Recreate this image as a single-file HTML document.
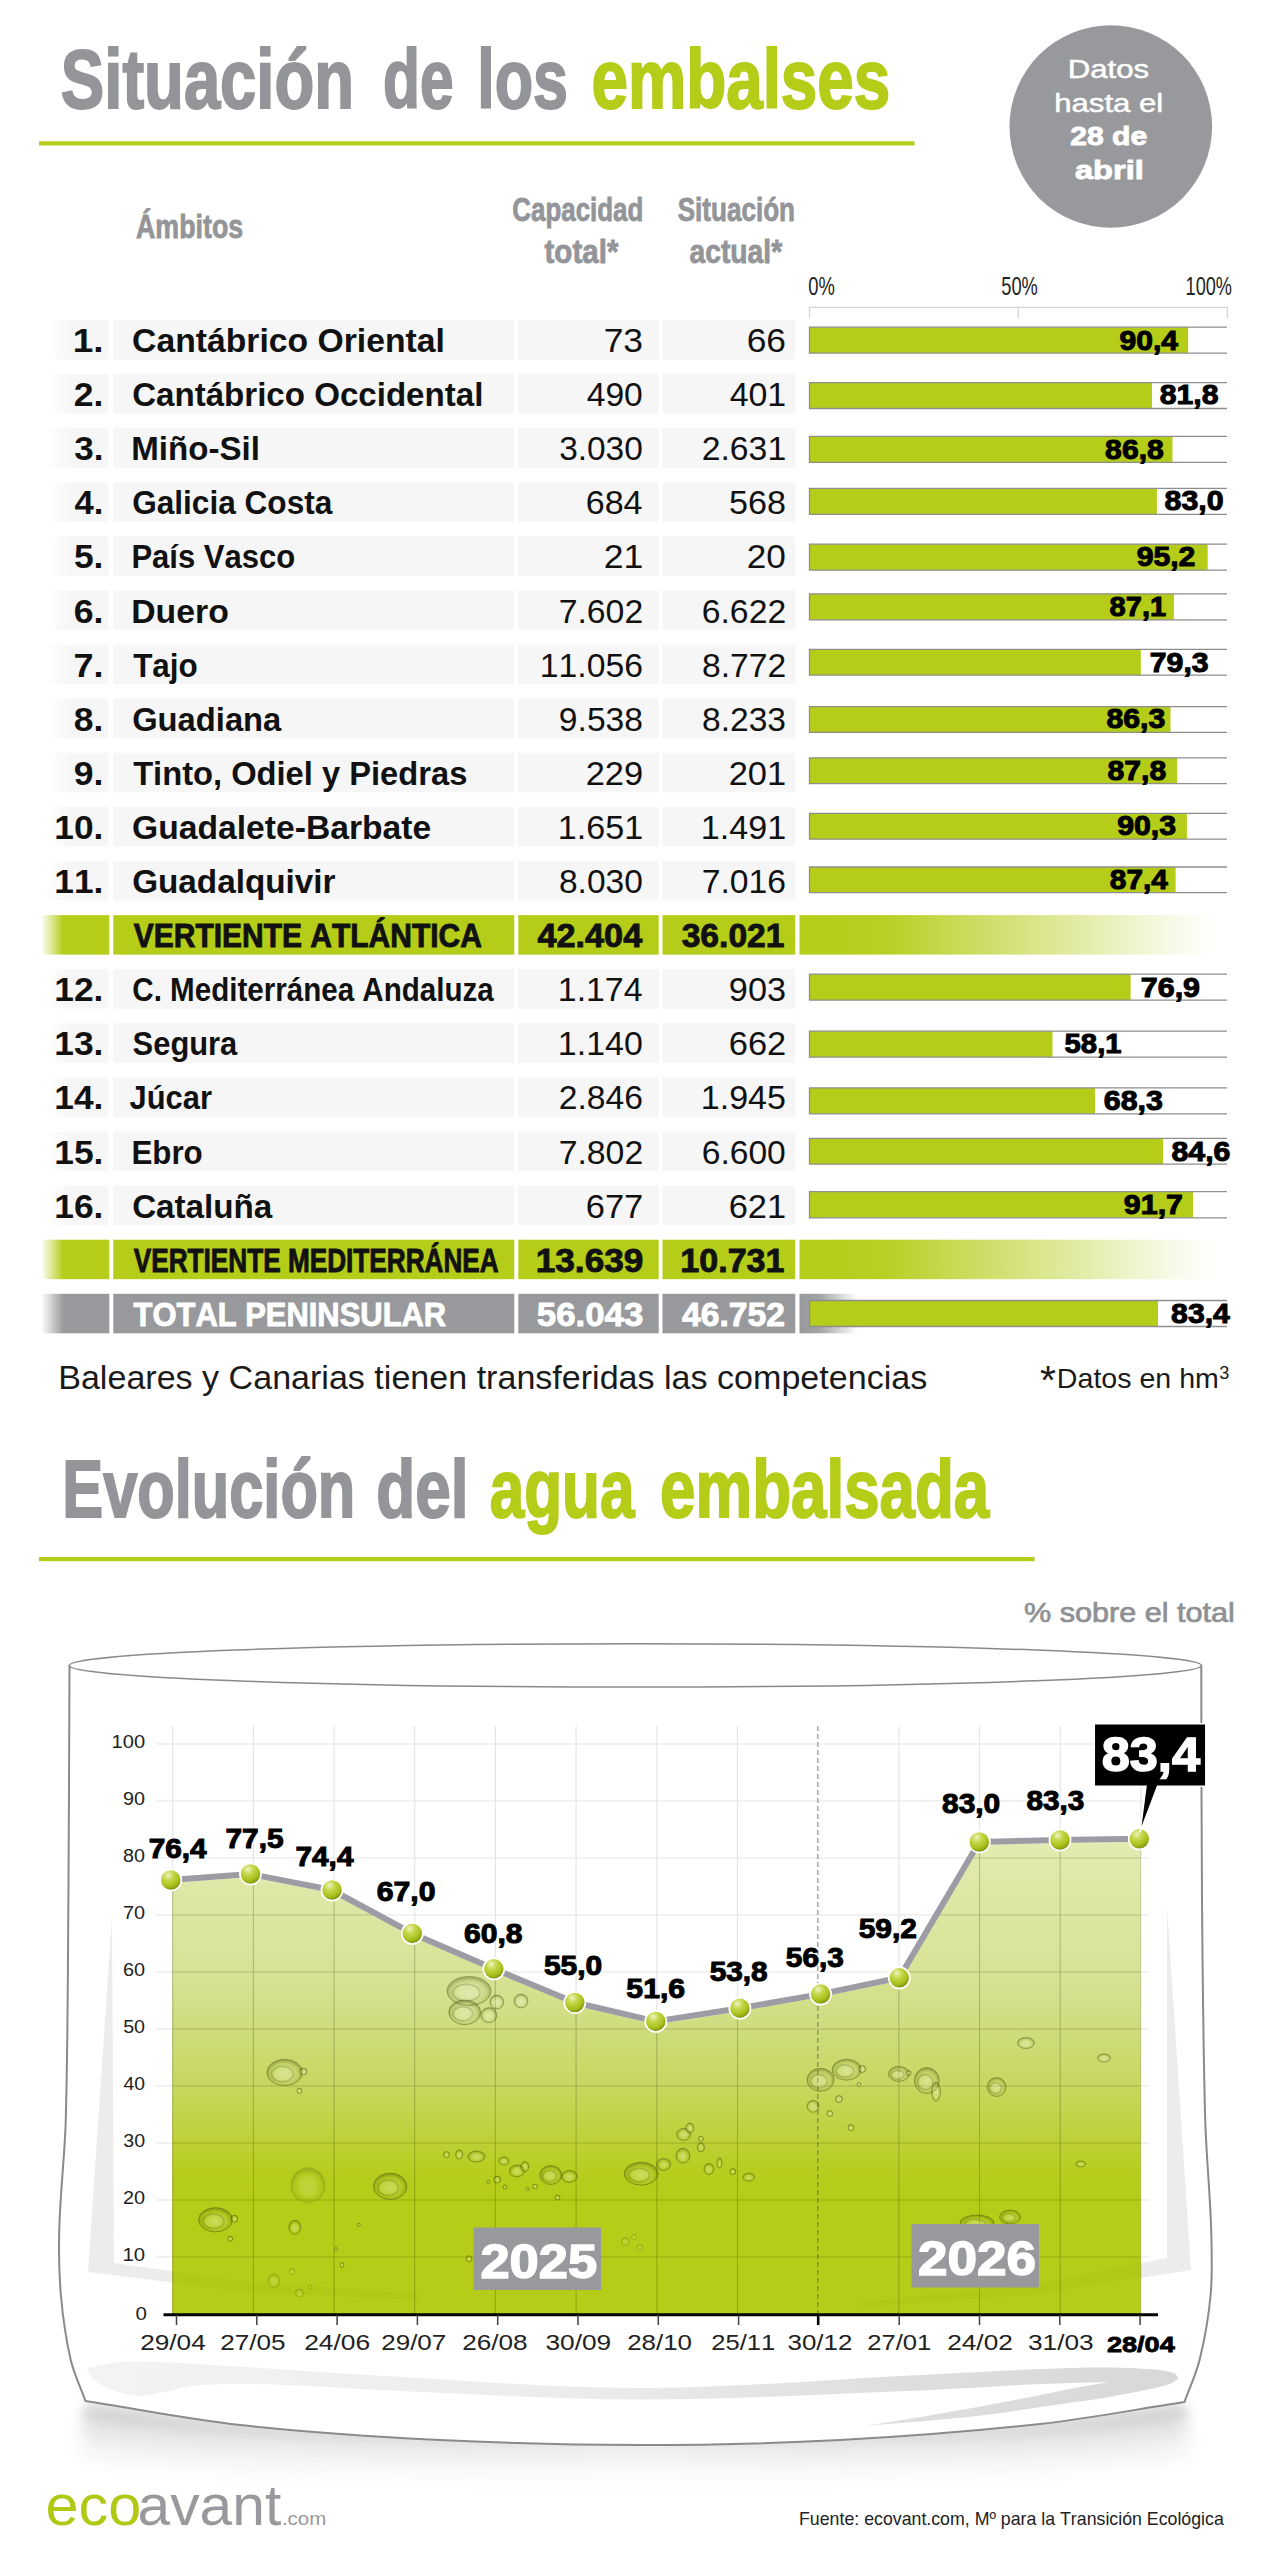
<!DOCTYPE html>
<html lang="es">
<head>
<meta charset="utf-8">
<title>Situación de los embalses</title>
<style>
html,body{margin:0;padding:0;background:#fff}
body{width:1280px;height:2560px;overflow:hidden;font-family:'Liberation Sans', sans-serif}
svg{display:block}
text{white-space:pre;font-kerning:none}
</style>
</head>
<body>
<svg width="1280" height="2560" viewBox="0 0 1280 2560">
<defs>
<linearGradient id="gl" x1="0" x2="1" y1="0" y2="0"><stop offset="0" stop-color="#b5cc18" stop-opacity="0"/><stop offset="0.33" stop-color="#b5cc18" stop-opacity="1"/><stop offset="1" stop-color="#b5cc18"/></linearGradient>
<linearGradient id="grl" x1="0" x2="1" y1="0" y2="0"><stop offset="0" stop-color="#97999c" stop-opacity="0"/><stop offset="0.33" stop-color="#97999c" stop-opacity="1"/><stop offset="1" stop-color="#97999c"/></linearGradient>
<linearGradient id="lgl" x1="0" x2="1" y1="0" y2="0"><stop offset="0" stop-color="#f6f6f6" stop-opacity="0"/><stop offset="0.4" stop-color="#f6f6f6" stop-opacity="1"/><stop offset="1" stop-color="#f6f6f6"/></linearGradient>
<linearGradient id="gfade" x1="0" x2="1" y1="0" y2="0"><stop offset="0" stop-color="#b5cc18" stop-opacity="1"/><stop offset="0.2" stop-color="#b5cc18" stop-opacity="0.95"/><stop offset="0.45" stop-color="#b5cc18" stop-opacity="0.65"/><stop offset="0.7" stop-color="#b5cc18" stop-opacity="0.35"/><stop offset="0.88" stop-color="#b5cc18" stop-opacity="0.12"/><stop offset="1" stop-color="#b5cc18" stop-opacity="0"/></linearGradient>
<linearGradient id="grfade" x1="0" x2="1" y1="0" y2="0"><stop offset="0" stop-color="#97999c" stop-opacity="1"/><stop offset="0.35" stop-color="#97999c" stop-opacity="0.9"/><stop offset="1" stop-color="#97999c" stop-opacity="0"/></linearGradient>
<linearGradient id="area" x1="0" x2="0" y1="1840" y2="2314" gradientUnits="userSpaceOnUse"><stop offset="0" stop-color="#e3ebb2"/><stop offset="0.084" stop-color="#dfe8a8"/><stop offset="0.28" stop-color="#d8e296"/><stop offset="0.40" stop-color="#cfdc7c"/><stop offset="0.52" stop-color="#c7d75e"/><stop offset="0.643" stop-color="#bdd034"/><stop offset="0.70" stop-color="#b7cd1e"/><stop offset="0.75" stop-color="#b5cc18"/><stop offset="1" stop-color="#b5cc18"/></linearGradient>
<radialGradient id="bub" cx="0.5" cy="0.55" r="0.5"><stop offset="0" stop-color="#fff" stop-opacity="0.30"/><stop offset="0.55" stop-color="#fff" stop-opacity="0.14"/><stop offset="0.8" stop-color="#46500f" stop-opacity="0.08"/><stop offset="1" stop-color="#46500f" stop-opacity="0.34"/></radialGradient>
<radialGradient id="ball" cx="0.38" cy="0.28" r="0.8"><stop offset="0" stop-color="#eef3c0"/><stop offset="0.3" stop-color="#c6d84c"/><stop offset="0.65" stop-color="#a9c01c"/><stop offset="1" stop-color="#6a7c08"/></radialGradient>
<linearGradient id="ring" x1="87" x2="1180" y1="0" y2="0" gradientUnits="userSpaceOnUse"><stop offset="0" stop-color="#f3f3f3"/><stop offset="0.45" stop-color="#ececec"/><stop offset="0.75" stop-color="#dedede"/><stop offset="1" stop-color="#d8d8d8"/></linearGradient>
<filter id="blur12" x="-10%" y="-100%" width="120%" height="300%"><feGaussianBlur stdDeviation="10"/></filter>
<filter id="blur6" x="-10%" y="-100%" width="120%" height="300%"><feGaussianBlur stdDeviation="5"/></filter>
<filter id="blur9" x="-10%" y="-100%" width="120%" height="300%"><feGaussianBlur stdDeviation="8"/></filter>
<linearGradient id="shg" x1="70" x2="1200" y1="0" y2="0" gradientUnits="userSpaceOnUse"><stop offset="0" stop-color="#000"/><stop offset="0.22" stop-color="#000" stop-opacity="0.75"/><stop offset="0.5" stop-color="#000" stop-opacity="0.55"/><stop offset="0.78" stop-color="#000" stop-opacity="0.75"/><stop offset="1" stop-color="#000"/></linearGradient>
<filter id="blur1" x="-5%" y="-5%" width="110%" height="110%"><feGaussianBlur stdDeviation="0.7"/></filter>
</defs>
<g font-family="'Liberation Sans', sans-serif">
<text x="60.87" y="107.60" font-size="84" font-weight="bold" fill="#939598" textLength="293.17" lengthAdjust="spacingAndGlyphs" stroke="#939598" stroke-width="2">Situación</text>
<text x="383.02" y="107.60" font-size="84" font-weight="bold" fill="#939598" textLength="70.55" lengthAdjust="spacingAndGlyphs" stroke="#939598" stroke-width="2">de</text>
<text x="477.21" y="107.60" font-size="84" font-weight="bold" fill="#939598" textLength="90.76" lengthAdjust="spacingAndGlyphs" stroke="#939598" stroke-width="2">los</text>
<text x="591.44" y="107.60" font-size="84" font-weight="bold" fill="#b5cc18" textLength="298.75" lengthAdjust="spacingAndGlyphs" stroke="#b5cc18" stroke-width="2">embalses</text>
<rect x="39" y="141.3" width="875.5" height="4.2" fill="#b5cc18"/>
<circle cx="1110.8" cy="126.5" r="101.3" fill="#97999c"/>
<text x="1067.69" y="78.00" font-size="26.5" fill="#fff" textLength="81.38" lengthAdjust="spacingAndGlyphs" stroke="#fff" stroke-width="0.5">Datos</text>
<text x="1054.29" y="111.60" font-size="26.5" fill="#fff" textLength="108.94" lengthAdjust="spacingAndGlyphs" stroke="#fff" stroke-width="0.5">hasta el</text>
<text x="1070.21" y="145.00" font-size="26.5" font-weight="bold" fill="#fff" textLength="76.97" lengthAdjust="spacingAndGlyphs" stroke="#fff" stroke-width="0.9">28 de</text>
<text x="1075.00" y="178.60" font-size="26.5" font-weight="bold" fill="#fff" textLength="68.76" lengthAdjust="spacingAndGlyphs" stroke="#fff" stroke-width="0.9">abril</text>
<text x="136.03" y="238.00" font-size="33" font-weight="bold" fill="#939598" textLength="107.17" lengthAdjust="spacingAndGlyphs" stroke="#939598" stroke-width="0.8">Ámbitos</text>
<text x="512.34" y="220.80" font-size="33" font-weight="bold" fill="#939598" textLength="130.97" lengthAdjust="spacingAndGlyphs" stroke="#939598" stroke-width="0.8">Capacidad</text>
<text x="544.54" y="262.50" font-size="33" font-weight="bold" fill="#939598" textLength="73.89" lengthAdjust="spacingAndGlyphs" stroke="#939598" stroke-width="0.8">total*</text>
<text x="677.65" y="221.00" font-size="33" font-weight="bold" fill="#939598" textLength="117.37" lengthAdjust="spacingAndGlyphs" stroke="#939598" stroke-width="0.8">Situación</text>
<text x="689.57" y="262.50" font-size="33" font-weight="bold" fill="#939598" textLength="92.55" lengthAdjust="spacingAndGlyphs" stroke="#939598" stroke-width="0.8">actual*</text>
<text x="808.28" y="294.80" font-size="25" fill="#222" textLength="26.57" lengthAdjust="spacingAndGlyphs">0%</text>
<text x="1001.27" y="294.80" font-size="25" fill="#222" textLength="36.58" lengthAdjust="spacingAndGlyphs">50%</text>
<text x="1185.62" y="294.80" font-size="25" fill="#222" textLength="46.33" lengthAdjust="spacingAndGlyphs">100%</text>
<path d="M809.5 318V307.4H1227.3V318M1018.2 307.4V318" fill="none" stroke="#d4d4d4" stroke-width="1.3"/>
<rect x="46" y="320.0" width="62.5" height="39.5" fill="url(#lgl)"/>
<rect x="113.3" y="320.0" width="401.0" height="39.5" fill="#f6f6f6"/>
<rect x="518.3" y="320.0" width="140.4" height="39.5" fill="#f6f6f6"/>
<rect x="662.5" y="320.0" width="132.8" height="39.5" fill="#f6f6f6"/>
<text x="72.67" y="352.00" font-size="33.3" font-weight="bold" fill="#111" textLength="30.88" lengthAdjust="spacingAndGlyphs">1.</text>
<text x="132.12" y="352.00" font-size="33.3" font-weight="bold" fill="#111" textLength="312.77" lengthAdjust="spacingAndGlyphs">Cantábrico Oriental</text>
<text x="603.66" y="352.00" font-size="32.4" fill="#111" textLength="39.40" lengthAdjust="spacingAndGlyphs">73</text>
<text x="746.67" y="352.00" font-size="32.4" fill="#111" textLength="39.38" lengthAdjust="spacingAndGlyphs">66</text>
<rect x="809.5" y="327.2" width="378.6" height="25.9" fill="#b5cc18"/>
<path d="M1227 327.2H809.5V353.2H1227" fill="none" stroke="#8e8e8e" stroke-width="1.3"/>
<text x="1119.46" y="349.60" font-size="27.5" font-weight="bold" fill="#000" textLength="58.50" lengthAdjust="spacingAndGlyphs" stroke="#000" stroke-width="1">90,4</text>
<rect x="46" y="374.1" width="62.5" height="39.5" fill="url(#lgl)"/>
<rect x="113.3" y="374.1" width="401.0" height="39.5" fill="#f6f6f6"/>
<rect x="518.3" y="374.1" width="140.4" height="39.5" fill="#f6f6f6"/>
<rect x="662.5" y="374.1" width="132.8" height="39.5" fill="#f6f6f6"/>
<text x="73.77" y="406.10" font-size="33.3" font-weight="bold" fill="#111" textLength="29.68" lengthAdjust="spacingAndGlyphs">2.</text>
<text x="132.14" y="406.10" font-size="33.3" font-weight="bold" fill="#111" textLength="351.20" lengthAdjust="spacingAndGlyphs">Cantábrico Occidental</text>
<text x="586.68" y="406.10" font-size="32.4" fill="#111" textLength="56.13" lengthAdjust="spacingAndGlyphs">490</text>
<text x="729.68" y="406.10" font-size="32.4" fill="#111" textLength="56.47" lengthAdjust="spacingAndGlyphs">401</text>
<rect x="809.5" y="382.7" width="342.5" height="25.8" fill="#b5cc18"/>
<path d="M1227 382.7H809.5V408.5H1227" fill="none" stroke="#8e8e8e" stroke-width="1.3"/>
<text x="1159.84" y="403.80" font-size="27.5" font-weight="bold" fill="#000" textLength="58.68" lengthAdjust="spacingAndGlyphs" stroke="#000" stroke-width="1">81,8</text>
<rect x="46" y="428.2" width="62.5" height="39.5" fill="url(#lgl)"/>
<rect x="113.3" y="428.2" width="401.0" height="39.5" fill="#f6f6f6"/>
<rect x="518.3" y="428.2" width="140.4" height="39.5" fill="#f6f6f6"/>
<rect x="662.5" y="428.2" width="132.8" height="39.5" fill="#f6f6f6"/>
<text x="74.20" y="460.20" font-size="33.3" font-weight="bold" fill="#111" textLength="29.22" lengthAdjust="spacingAndGlyphs">3.</text>
<text x="131.29" y="460.20" font-size="33.3" font-weight="bold" fill="#111" textLength="128.55" lengthAdjust="spacingAndGlyphs">Miño-Sil</text>
<text x="559.16" y="460.20" font-size="32.4" fill="#111" textLength="83.64" lengthAdjust="spacingAndGlyphs">3.030</text>
<text x="701.74" y="460.20" font-size="32.4" fill="#111" textLength="84.41" lengthAdjust="spacingAndGlyphs">2.631</text>
<rect x="809.5" y="436.3" width="363.0" height="26.1" fill="#b5cc18"/>
<path d="M1227 436.3H809.5V462.4H1227" fill="none" stroke="#8e8e8e" stroke-width="1.3"/>
<text x="1105.14" y="458.50" font-size="27.5" font-weight="bold" fill="#000" textLength="58.68" lengthAdjust="spacingAndGlyphs" stroke="#000" stroke-width="1">86,8</text>
<rect x="46" y="482.3" width="62.5" height="39.5" fill="url(#lgl)"/>
<rect x="113.3" y="482.3" width="401.0" height="39.5" fill="#f6f6f6"/>
<rect x="518.3" y="482.3" width="140.4" height="39.5" fill="#f6f6f6"/>
<rect x="662.5" y="482.3" width="132.8" height="39.5" fill="#f6f6f6"/>
<text x="74.48" y="514.30" font-size="33.3" font-weight="bold" fill="#111" textLength="28.91" lengthAdjust="spacingAndGlyphs">4.</text>
<text x="132.20" y="514.30" font-size="33.3" font-weight="bold" fill="#111" textLength="200.09" lengthAdjust="spacingAndGlyphs">Galicia Costa</text>
<text x="585.73" y="514.30" font-size="32.4" fill="#111" textLength="56.77" lengthAdjust="spacingAndGlyphs">684</text>
<text x="729.09" y="514.30" font-size="32.4" fill="#111" textLength="56.89" lengthAdjust="spacingAndGlyphs">568</text>
<rect x="809.5" y="488.3" width="347.4" height="26.1" fill="#b5cc18"/>
<path d="M1227 488.3H809.5V514.4H1227" fill="none" stroke="#8e8e8e" stroke-width="1.3"/>
<text x="1164.54" y="509.75" font-size="27.5" font-weight="bold" fill="#000" textLength="59.01" lengthAdjust="spacingAndGlyphs" stroke="#000" stroke-width="1">83,0</text>
<rect x="46" y="536.4" width="62.5" height="39.5" fill="url(#lgl)"/>
<rect x="113.3" y="536.4" width="401.0" height="39.5" fill="#f6f6f6"/>
<rect x="518.3" y="536.4" width="140.4" height="39.5" fill="#f6f6f6"/>
<rect x="662.5" y="536.4" width="132.8" height="39.5" fill="#f6f6f6"/>
<text x="73.91" y="568.40" font-size="33.3" font-weight="bold" fill="#111" textLength="29.53" lengthAdjust="spacingAndGlyphs">5.</text>
<text x="131.43" y="568.40" font-size="33.3" font-weight="bold" fill="#111" textLength="163.79" lengthAdjust="spacingAndGlyphs">País Vasco</text>
<text x="603.68" y="568.40" font-size="32.4" fill="#111" textLength="39.55" lengthAdjust="spacingAndGlyphs">21</text>
<text x="746.70" y="568.40" font-size="32.4" fill="#111" textLength="39.18" lengthAdjust="spacingAndGlyphs">20</text>
<rect x="809.5" y="544.1" width="398.2" height="26.1" fill="#b5cc18"/>
<path d="M1227 544.1H809.5V570.2H1227" fill="none" stroke="#8e8e8e" stroke-width="1.3"/>
<text x="1136.65" y="566.00" font-size="27.5" font-weight="bold" fill="#000" textLength="58.76" lengthAdjust="spacingAndGlyphs" stroke="#000" stroke-width="1">95,2</text>
<rect x="46" y="590.5" width="62.5" height="39.5" fill="url(#lgl)"/>
<rect x="113.3" y="590.5" width="401.0" height="39.5" fill="#f6f6f6"/>
<rect x="518.3" y="590.5" width="140.4" height="39.5" fill="#f6f6f6"/>
<rect x="662.5" y="590.5" width="132.8" height="39.5" fill="#f6f6f6"/>
<text x="73.69" y="622.50" font-size="33.3" font-weight="bold" fill="#111" textLength="29.76" lengthAdjust="spacingAndGlyphs">6.</text>
<text x="131.24" y="622.50" font-size="33.3" font-weight="bold" fill="#111" textLength="97.58" lengthAdjust="spacingAndGlyphs">Duero</text>
<text x="558.70" y="622.50" font-size="32.4" fill="#111" textLength="84.49" lengthAdjust="spacingAndGlyphs">7.602</text>
<text x="701.72" y="622.50" font-size="32.4" fill="#111" textLength="84.48" lengthAdjust="spacingAndGlyphs">6.622</text>
<rect x="809.5" y="593.8" width="364.4" height="26.1" fill="#b5cc18"/>
<path d="M1227 593.8H809.5V619.9H1227" fill="none" stroke="#8e8e8e" stroke-width="1.3"/>
<text x="1109.58" y="616.30" font-size="27.5" font-weight="bold" fill="#000" textLength="56.53" lengthAdjust="spacingAndGlyphs" stroke="#000" stroke-width="1">87,1</text>
<rect x="46" y="644.6" width="62.5" height="39.5" fill="url(#lgl)"/>
<rect x="113.3" y="644.6" width="401.0" height="39.5" fill="#f6f6f6"/>
<rect x="518.3" y="644.6" width="140.4" height="39.5" fill="#f6f6f6"/>
<rect x="662.5" y="644.6" width="132.8" height="39.5" fill="#f6f6f6"/>
<text x="73.45" y="676.60" font-size="33.3" font-weight="bold" fill="#111" textLength="30.03" lengthAdjust="spacingAndGlyphs">7.</text>
<text x="133.15" y="676.60" font-size="33.3" font-weight="bold" fill="#111" textLength="64.58" lengthAdjust="spacingAndGlyphs">Tajo</text>
<text x="539.85" y="676.60" font-size="32.4" fill="#111" textLength="103.13" lengthAdjust="spacingAndGlyphs">11.056</text>
<text x="701.97" y="676.60" font-size="32.4" fill="#111" textLength="84.22" lengthAdjust="spacingAndGlyphs">8.772</text>
<rect x="809.5" y="649.3" width="331.3" height="25.8" fill="#b5cc18"/>
<path d="M1227 649.3H809.5V675.1H1227" fill="none" stroke="#8e8e8e" stroke-width="1.3"/>
<text x="1149.80" y="671.60" font-size="27.5" font-weight="bold" fill="#000" textLength="58.79" lengthAdjust="spacingAndGlyphs" stroke="#000" stroke-width="1">79,3</text>
<rect x="46" y="698.7" width="62.5" height="39.5" fill="url(#lgl)"/>
<rect x="113.3" y="698.7" width="401.0" height="39.5" fill="#f6f6f6"/>
<rect x="518.3" y="698.7" width="140.4" height="39.5" fill="#f6f6f6"/>
<rect x="662.5" y="698.7" width="132.8" height="39.5" fill="#f6f6f6"/>
<text x="73.87" y="730.70" font-size="33.3" font-weight="bold" fill="#111" textLength="29.57" lengthAdjust="spacingAndGlyphs">8.</text>
<text x="132.16" y="730.70" font-size="33.3" font-weight="bold" fill="#111" textLength="149.13" lengthAdjust="spacingAndGlyphs">Guadiana</text>
<text x="558.86" y="730.70" font-size="32.4" fill="#111" textLength="84.10" lengthAdjust="spacingAndGlyphs">9.538</text>
<text x="701.98" y="730.70" font-size="32.4" fill="#111" textLength="84.00" lengthAdjust="spacingAndGlyphs">8.233</text>
<rect x="809.5" y="706.6" width="361.0" height="25.8" fill="#b5cc18"/>
<path d="M1227 706.6H809.5V732.4H1227" fill="none" stroke="#8e8e8e" stroke-width="1.3"/>
<text x="1106.44" y="728.20" font-size="27.5" font-weight="bold" fill="#000" textLength="58.85" lengthAdjust="spacingAndGlyphs" stroke="#000" stroke-width="1">86,3</text>
<rect x="46" y="752.8" width="62.5" height="39.5" fill="url(#lgl)"/>
<rect x="113.3" y="752.8" width="401.0" height="39.5" fill="#f6f6f6"/>
<rect x="518.3" y="752.8" width="140.4" height="39.5" fill="#f6f6f6"/>
<rect x="662.5" y="752.8" width="132.8" height="39.5" fill="#f6f6f6"/>
<text x="73.77" y="784.80" font-size="33.3" font-weight="bold" fill="#111" textLength="29.68" lengthAdjust="spacingAndGlyphs">9.</text>
<text x="133.13" y="784.80" font-size="33.3" font-weight="bold" fill="#111" textLength="334.21" lengthAdjust="spacingAndGlyphs">Tinto, Odiel y Piedras</text>
<text x="585.73" y="784.80" font-size="32.4" fill="#111" textLength="57.40" lengthAdjust="spacingAndGlyphs">229</text>
<text x="728.72" y="784.80" font-size="32.4" fill="#111" textLength="57.46" lengthAdjust="spacingAndGlyphs">201</text>
<rect x="809.5" y="757.9" width="367.7" height="25.8" fill="#b5cc18"/>
<path d="M1227 757.9H809.5V783.7H1227" fill="none" stroke="#8e8e8e" stroke-width="1.3"/>
<text x="1107.54" y="780.00" font-size="27.5" font-weight="bold" fill="#000" textLength="58.68" lengthAdjust="spacingAndGlyphs" stroke="#000" stroke-width="1">87,8</text>
<rect x="46" y="806.9" width="62.5" height="39.5" fill="url(#lgl)"/>
<rect x="113.3" y="806.9" width="401.0" height="39.5" fill="#f6f6f6"/>
<rect x="518.3" y="806.9" width="140.4" height="39.5" fill="#f6f6f6"/>
<rect x="662.5" y="806.9" width="132.8" height="39.5" fill="#f6f6f6"/>
<text x="54.27" y="838.90" font-size="33.3" font-weight="bold" fill="#111" textLength="49.16" lengthAdjust="spacingAndGlyphs">10.</text>
<text x="132.12" y="838.90" font-size="33.3" font-weight="bold" fill="#111" textLength="299.03" lengthAdjust="spacingAndGlyphs">Guadalete-Barbate</text>
<text x="557.84" y="838.90" font-size="32.4" fill="#111" textLength="85.33" lengthAdjust="spacingAndGlyphs">1.651</text>
<text x="700.84" y="838.90" font-size="32.4" fill="#111" textLength="85.33" lengthAdjust="spacingAndGlyphs">1.491</text>
<rect x="809.5" y="813.3" width="377.4" height="25.8" fill="#b5cc18"/>
<path d="M1227 813.3H809.5V839.1H1227" fill="none" stroke="#8e8e8e" stroke-width="1.3"/>
<text x="1117.15" y="835.20" font-size="27.5" font-weight="bold" fill="#000" textLength="58.94" lengthAdjust="spacingAndGlyphs" stroke="#000" stroke-width="1">90,3</text>
<rect x="46" y="861.0" width="62.5" height="39.5" fill="url(#lgl)"/>
<rect x="113.3" y="861.0" width="401.0" height="39.5" fill="#f6f6f6"/>
<rect x="518.3" y="861.0" width="140.4" height="39.5" fill="#f6f6f6"/>
<rect x="662.5" y="861.0" width="132.8" height="39.5" fill="#f6f6f6"/>
<text x="54.27" y="893.00" font-size="33.3" font-weight="bold" fill="#111" textLength="49.16" lengthAdjust="spacingAndGlyphs">11.</text>
<text x="132.14" y="893.00" font-size="33.3" font-weight="bold" fill="#111" textLength="203.37" lengthAdjust="spacingAndGlyphs">Guadalquivir</text>
<text x="558.98" y="893.00" font-size="32.4" fill="#111" textLength="83.83" lengthAdjust="spacingAndGlyphs">8.030</text>
<text x="701.71" y="893.00" font-size="32.4" fill="#111" textLength="84.27" lengthAdjust="spacingAndGlyphs">7.016</text>
<rect x="809.5" y="867.0" width="366.1" height="25.7" fill="#b5cc18"/>
<path d="M1227 867.0H809.5V892.7H1227" fill="none" stroke="#8e8e8e" stroke-width="1.3"/>
<text x="1109.86" y="888.80" font-size="27.5" font-weight="bold" fill="#000" textLength="57.90" lengthAdjust="spacingAndGlyphs" stroke="#000" stroke-width="1">87,4</text>
<rect x="41" y="915.1" width="68.3" height="39.5" fill="url(#gl)"/>
<rect x="113.3" y="915.1" width="401.0" height="39.5" fill="#b5cc18"/>
<rect x="518.3" y="915.1" width="140.4" height="39.5" fill="#b5cc18"/>
<rect x="662.5" y="915.1" width="132.8" height="39.5" fill="#b5cc18"/>
<rect x="799.5" y="915.1" width="416" height="39.5" fill="url(#gfade)"/>
<text x="133.75" y="947.10" font-size="33" font-weight="bold" fill="#111" textLength="348.10" lengthAdjust="spacingAndGlyphs" stroke="#111" stroke-width="0.9">VERTIENTE ATLÁNTICA</text>
<text x="537.43" y="947.10" font-size="33" font-weight="bold" fill="#111" textLength="104.80" lengthAdjust="spacingAndGlyphs" stroke="#111" stroke-width="0.9">42.404</text>
<text x="681.68" y="947.10" font-size="33" font-weight="bold" fill="#111" textLength="102.81" lengthAdjust="spacingAndGlyphs" stroke="#111" stroke-width="0.9">36.021</text>
<rect x="46" y="969.2" width="62.5" height="39.5" fill="url(#lgl)"/>
<rect x="113.3" y="969.2" width="401.0" height="39.5" fill="#f6f6f6"/>
<rect x="518.3" y="969.2" width="140.4" height="39.5" fill="#f6f6f6"/>
<rect x="662.5" y="969.2" width="132.8" height="39.5" fill="#f6f6f6"/>
<text x="54.27" y="1001.20" font-size="33.3" font-weight="bold" fill="#111" textLength="49.16" lengthAdjust="spacingAndGlyphs">12.</text>
<text x="132.29" y="1001.20" font-size="33.3" font-weight="bold" fill="#111" textLength="361.53" lengthAdjust="spacingAndGlyphs">C. Mediterránea Andaluza</text>
<text x="557.86" y="1001.20" font-size="32.4" fill="#111" textLength="84.63" lengthAdjust="spacingAndGlyphs">1.174</text>
<text x="728.85" y="1001.20" font-size="32.4" fill="#111" textLength="57.15" lengthAdjust="spacingAndGlyphs">903</text>
<rect x="809.5" y="974.1" width="321.1" height="26.1" fill="#b5cc18"/>
<path d="M1227 974.1H809.5V1000.2H1227" fill="none" stroke="#8e8e8e" stroke-width="1.3"/>
<text x="1140.79" y="996.70" font-size="27.5" font-weight="bold" fill="#000" textLength="59.24" lengthAdjust="spacingAndGlyphs" stroke="#000" stroke-width="1">76,9</text>
<rect x="46" y="1023.3" width="62.5" height="39.5" fill="url(#lgl)"/>
<rect x="113.3" y="1023.3" width="401.0" height="39.5" fill="#f6f6f6"/>
<rect x="518.3" y="1023.3" width="140.4" height="39.5" fill="#f6f6f6"/>
<rect x="662.5" y="1023.3" width="132.8" height="39.5" fill="#f6f6f6"/>
<text x="54.27" y="1055.30" font-size="33.3" font-weight="bold" fill="#111" textLength="49.16" lengthAdjust="spacingAndGlyphs">13.</text>
<text x="132.61" y="1055.30" font-size="33.3" font-weight="bold" fill="#111" textLength="104.69" lengthAdjust="spacingAndGlyphs">Segura</text>
<text x="557.85" y="1055.30" font-size="32.4" fill="#111" textLength="84.98" lengthAdjust="spacingAndGlyphs">1.140</text>
<text x="728.71" y="1055.30" font-size="32.4" fill="#111" textLength="57.53" lengthAdjust="spacingAndGlyphs">662</text>
<rect x="809.5" y="1031.1" width="243.0" height="26.1" fill="#b5cc18"/>
<path d="M1227 1031.1H809.5V1057.2H1227" fill="none" stroke="#8e8e8e" stroke-width="1.3"/>
<text x="1064.60" y="1053.40" font-size="27.5" font-weight="bold" fill="#000" textLength="56.96" lengthAdjust="spacingAndGlyphs" stroke="#000" stroke-width="1">58,1</text>
<rect x="46" y="1077.4" width="62.5" height="39.5" fill="url(#lgl)"/>
<rect x="113.3" y="1077.4" width="401.0" height="39.5" fill="#f6f6f6"/>
<rect x="518.3" y="1077.4" width="140.4" height="39.5" fill="#f6f6f6"/>
<rect x="662.5" y="1077.4" width="132.8" height="39.5" fill="#f6f6f6"/>
<text x="54.27" y="1109.40" font-size="33.3" font-weight="bold" fill="#111" textLength="49.16" lengthAdjust="spacingAndGlyphs">14.</text>
<text x="129.53" y="1109.40" font-size="33.3" font-weight="bold" fill="#111" textLength="82.44" lengthAdjust="spacingAndGlyphs">Júcar</text>
<text x="558.74" y="1109.40" font-size="32.4" fill="#111" textLength="84.24" lengthAdjust="spacingAndGlyphs">2.846</text>
<text x="700.85" y="1109.40" font-size="32.4" fill="#111" textLength="85.08" lengthAdjust="spacingAndGlyphs">1.945</text>
<rect x="809.5" y="1087.8" width="285.5" height="26.1" fill="#b5cc18"/>
<path d="M1227 1087.8H809.5V1113.9H1227" fill="none" stroke="#8e8e8e" stroke-width="1.3"/>
<text x="1103.79" y="1110.00" font-size="27.5" font-weight="bold" fill="#000" textLength="59.11" lengthAdjust="spacingAndGlyphs" stroke="#000" stroke-width="1">68,3</text>
<rect x="46" y="1131.5" width="62.5" height="39.5" fill="url(#lgl)"/>
<rect x="113.3" y="1131.5" width="401.0" height="39.5" fill="#f6f6f6"/>
<rect x="518.3" y="1131.5" width="140.4" height="39.5" fill="#f6f6f6"/>
<rect x="662.5" y="1131.5" width="132.8" height="39.5" fill="#f6f6f6"/>
<text x="54.27" y="1163.50" font-size="33.3" font-weight="bold" fill="#111" textLength="49.16" lengthAdjust="spacingAndGlyphs">15.</text>
<text x="131.41" y="1163.50" font-size="33.3" font-weight="bold" fill="#111" textLength="71.32" lengthAdjust="spacingAndGlyphs">Ebro</text>
<text x="558.70" y="1163.50" font-size="32.4" fill="#111" textLength="84.49" lengthAdjust="spacingAndGlyphs">7.802</text>
<text x="701.73" y="1163.50" font-size="32.4" fill="#111" textLength="84.08" lengthAdjust="spacingAndGlyphs">6.600</text>
<rect x="809.5" y="1138.4" width="353.5" height="25.8" fill="#b5cc18"/>
<path d="M1227 1138.4H809.5V1164.2H1227" fill="none" stroke="#8e8e8e" stroke-width="1.3"/>
<text x="1171.54" y="1160.80" font-size="27.5" font-weight="bold" fill="#000" textLength="58.85" lengthAdjust="spacingAndGlyphs" stroke="#000" stroke-width="1">84,6</text>
<rect x="46" y="1185.6" width="62.5" height="39.5" fill="url(#lgl)"/>
<rect x="113.3" y="1185.6" width="401.0" height="39.5" fill="#f6f6f6"/>
<rect x="518.3" y="1185.6" width="140.4" height="39.5" fill="#f6f6f6"/>
<rect x="662.5" y="1185.6" width="132.8" height="39.5" fill="#f6f6f6"/>
<text x="54.27" y="1217.60" font-size="33.3" font-weight="bold" fill="#111" textLength="49.16" lengthAdjust="spacingAndGlyphs">16.</text>
<text x="132.14" y="1217.60" font-size="33.3" font-weight="bold" fill="#111" textLength="140.15" lengthAdjust="spacingAndGlyphs">Cataluña</text>
<text x="585.71" y="1217.60" font-size="32.4" fill="#111" textLength="57.53" lengthAdjust="spacingAndGlyphs">677</text>
<text x="728.71" y="1217.60" font-size="32.4" fill="#111" textLength="57.47" lengthAdjust="spacingAndGlyphs">621</text>
<rect x="809.5" y="1191.7" width="383.6" height="26.1" fill="#b5cc18"/>
<path d="M1227 1191.7H809.5V1217.8H1227" fill="none" stroke="#8e8e8e" stroke-width="1.3"/>
<text x="1123.85" y="1213.90" font-size="27.5" font-weight="bold" fill="#000" textLength="59.19" lengthAdjust="spacingAndGlyphs" stroke="#000" stroke-width="1">91,7</text>
<rect x="41" y="1239.7" width="68.3" height="39.5" fill="url(#gl)"/>
<rect x="113.3" y="1239.7" width="401.0" height="39.5" fill="#b5cc18"/>
<rect x="518.3" y="1239.7" width="140.4" height="39.5" fill="#b5cc18"/>
<rect x="662.5" y="1239.7" width="132.8" height="39.5" fill="#b5cc18"/>
<rect x="799.5" y="1239.7" width="416" height="39.5" fill="url(#gfade)"/>
<text x="133.77" y="1271.70" font-size="33" font-weight="bold" fill="#111" textLength="364.97" lengthAdjust="spacingAndGlyphs" stroke="#111" stroke-width="0.9">VERTIENTE MEDITERRÁNEA</text>
<text x="535.73" y="1271.70" font-size="33" font-weight="bold" fill="#111" textLength="107.62" lengthAdjust="spacingAndGlyphs" stroke="#111" stroke-width="0.9">13.639</text>
<text x="680.30" y="1271.70" font-size="33" font-weight="bold" fill="#111" textLength="104.19" lengthAdjust="spacingAndGlyphs" stroke="#111" stroke-width="0.9">10.731</text>
<rect x="41" y="1293.8" width="68.3" height="39.5" fill="url(#grl)"/>
<rect x="113.3" y="1293.8" width="401.0" height="39.5" fill="#97999c"/>
<rect x="518.3" y="1293.8" width="140.4" height="39.5" fill="#97999c"/>
<rect x="662.5" y="1293.8" width="132.8" height="39.5" fill="#97999c"/>
<rect x="799.5" y="1293.8" width="58" height="39.5" fill="url(#grfade)"/>
<text x="133.60" y="1325.80" font-size="33" font-weight="bold" fill="#fff" textLength="312.58" lengthAdjust="spacingAndGlyphs" stroke="#fff" stroke-width="0.9">TOTAL PENINSULAR</text>
<text x="536.88" y="1325.80" font-size="33" font-weight="bold" fill="#fff" textLength="106.43" lengthAdjust="spacingAndGlyphs" stroke="#fff" stroke-width="0.9">56.043</text>
<text x="681.94" y="1325.80" font-size="33" font-weight="bold" fill="#fff" textLength="102.96" lengthAdjust="spacingAndGlyphs" stroke="#fff" stroke-width="0.9">46.752</text>
<rect x="809.5" y="1300.5" width="348.5" height="26.0" fill="#b5cc18"/>
<path d="M1227 1300.5H809.5V1326.5H1227" fill="none" stroke="#8e8e8e" stroke-width="1.3"/>
<text x="1171.14" y="1322.70" font-size="27.5" font-weight="bold" fill="#000" textLength="58.72" lengthAdjust="spacingAndGlyphs" stroke="#000" stroke-width="1">83,4</text>
<text x="58.21" y="1389.00" font-size="32.5" fill="#1a1a1a" textLength="869.02" lengthAdjust="spacingAndGlyphs">Baleares y Canarias tienen transferidas las competencias</text>
<text x="1040.04" y="1394.00" font-size="41" fill="#1a1a1a" textLength="16.01" lengthAdjust="spacingAndGlyphs">*</text>
<text x="1056.86" y="1388.20" font-size="28.5" fill="#1a1a1a" textLength="162.03" lengthAdjust="spacingAndGlyphs">Datos en hm</text>
<text x="1219.21" y="1379.20" font-size="17.5" fill="#1a1a1a" textLength="10.09" lengthAdjust="spacingAndGlyphs">3</text>
<text x="62.30" y="1517.30" font-size="82" font-weight="bold" fill="#939598" textLength="293.00" lengthAdjust="spacingAndGlyphs" stroke="#939598" stroke-width="2">Evolución</text>
<text x="376.28" y="1517.30" font-size="82" font-weight="bold" fill="#939598" textLength="92.24" lengthAdjust="spacingAndGlyphs" stroke="#939598" stroke-width="2">del</text>
<text x="489.68" y="1517.30" font-size="82" font-weight="bold" fill="#b5cc18" textLength="144.72" lengthAdjust="spacingAndGlyphs" stroke="#b5cc18" stroke-width="2">agua</text>
<text x="660.11" y="1517.30" font-size="82" font-weight="bold" fill="#b5cc18" textLength="329.18" lengthAdjust="spacingAndGlyphs" stroke="#b5cc18" stroke-width="2">embalsada</text>
<rect x="39" y="1557" width="995.5" height="4.2" fill="#b5cc18"/>
<text x="1024.06" y="1622.00" font-size="28" fill="#8e9093" textLength="210.84" lengthAdjust="spacingAndGlyphs" stroke="#8e9093" stroke-width="0.7">% sobre el total</text>
</g>
<g filter="url(#blur6)" opacity="0.07"><path d="M86 2402 L240 2420 L640 2438 L1040 2419 L1184 2402 L1190 2418 C1000 2458 300 2458 80 2418Z" fill="url(#shg)"/></g>
<g filter="url(#blur9)" opacity="0.06"><path d="M86 2402 L240 2420 L640 2438 L1040 2419 L1184 2402 L1190 2434 C1000 2470 300 2470 80 2434Z" fill="url(#shg)"/></g>
<g filter="url(#blur12)" opacity="0.05"><path d="M86 2402 L240 2420 L640 2438 L1040 2419 L1184 2402 L1190 2456 C1000 2487 300 2487 80 2456Z" fill="url(#shg)"/></g>
<path d="M69.5 1665.0C69.1 1743.3 69.0 1821.7 68.4 1900.0C67.8 1973.0 67.8 2046.0 65.8 2119.0C64.8 2155.4 60.3 2191.6 59.3 2228.0C58.7 2250.0 58.9 2272.1 60.8 2294.0C62.7 2316.0 65.7 2338.1 70.6 2359.5C73.9 2373.8 80.5 2387.2 85.5 2401.0L85.5 2401.0C137.0 2409.0 188.2 2419.3 240.0 2425.0C306.4 2432.3 373.3 2436.7 440.0 2440.0C506.6 2443.3 573.3 2445.0 640.0 2445.0C706.7 2445.0 773.4 2443.5 840.0 2440.0C906.8 2436.5 973.6 2431.3 1040.0 2424.0C1088.4 2418.7 1136.3 2409.3 1184.4 2402.0L1184.4 2402.0C1189.5 2387.8 1196.2 2374.1 1199.7 2359.5C1204.9 2338.1 1208.8 2316.0 1210.7 2294.0C1212.6 2272.2 1211.8 2250.0 1211.1 2228.0C1210.0 2191.6 1206.2 2155.4 1205.2 2119.0C1203.2 2046.0 1202.6 1973.0 1202.0 1900.0C1201.3 1821.7 1201.5 1743.3 1201.3 1665.0Z" fill="#fff"/>
<clipPath id="jarclip"><path d="M69.5 1665.0C69.1 1743.3 69.0 1821.7 68.4 1900.0C67.8 1973.0 67.8 2046.0 65.8 2119.0C64.8 2155.4 60.3 2191.6 59.3 2228.0C58.7 2250.0 58.9 2272.1 60.8 2294.0C62.7 2316.0 65.7 2338.1 70.6 2359.5C73.9 2373.8 80.5 2387.2 85.5 2401.0L85.5 2401.0C137.0 2409.0 188.2 2419.3 240.0 2425.0C306.4 2432.3 373.3 2436.7 440.0 2440.0C506.6 2443.3 573.3 2445.0 640.0 2445.0C706.7 2445.0 773.4 2443.5 840.0 2440.0C906.8 2436.5 973.6 2431.3 1040.0 2424.0C1088.4 2418.7 1136.3 2409.3 1184.4 2402.0L1184.4 2402.0C1189.5 2387.8 1196.2 2374.1 1199.7 2359.5C1204.9 2338.1 1208.8 2316.0 1210.7 2294.0C1212.6 2272.2 1211.8 2250.0 1211.1 2228.0C1210.0 2191.6 1206.2 2155.4 1205.2 2119.0C1203.2 2046.0 1202.6 1973.0 1202.0 1900.0C1201.3 1821.7 1201.5 1743.3 1201.3 1665.0Z"/></clipPath>
<g clip-path="url(#jarclip)">
<path d="M87.0 2368.0C98.0 2366.0 108.9 2362.6 120.0 2362.0C139.9 2360.9 160.0 2362.0 180.0 2363.0C242.7 2366.3 305.3 2371.6 368.0 2375.0C458.6 2379.9 549.3 2388.0 640.0 2388.0C733.7 2388.0 827.3 2379.4 921.0 2375.0C960.7 2373.1 1000.3 2370.6 1040.0 2369.0C1063.0 2368.1 1086.0 2367.4 1109.0 2367.5C1124.3 2367.6 1139.7 2368.2 1155.0 2369.5C1161.4 2370.0 1168.2 2370.9 1174.0 2373.0C1176.0 2373.7 1177.0 2376.3 1178.5 2378.0L1178.5 2378.0C1176.3 2379.7 1174.5 2381.9 1172.0 2383.0C1166.6 2385.3 1160.8 2386.7 1155.0 2388.0C1139.8 2391.4 1124.4 2394.4 1109.0 2397.0C1093.4 2399.7 1077.7 2401.8 1062.0 2404.0C1030.7 2408.4 999.4 2413.5 968.0 2417.0C933.8 2420.8 899.3 2423.0 865.0 2426.0L865.0 2426.0C883.7 2423.0 902.4 2420.2 921.0 2417.0C952.4 2411.6 983.7 2405.9 1015.0 2400.0C1036.7 2395.9 1058.3 2391.2 1080.0 2387.0C1089.6 2385.2 1099.3 2383.7 1109.0 2382.0L1109.0 2382.0C1082.7 2382.8 1056.3 2383.3 1030.0 2384.5C993.7 2386.2 957.4 2389.2 921.0 2390.6C827.4 2394.2 733.7 2399.4 640.0 2399.5C560.0 2399.6 480.0 2394.3 400.0 2391.0C358.0 2389.3 316.0 2385.8 274.0 2384.5C249.4 2383.8 224.5 2383.4 200.0 2385.0C188.5 2385.8 177.3 2389.4 166.0 2391.6L166.0 2391.6C157.3 2393.1 148.6 2396.3 140.0 2396.0C130.6 2395.7 120.9 2393.1 112.0 2390.0C105.6 2387.8 99.0 2384.4 94.0 2380.0C90.6 2377.0 89.3 2372.0 87.0 2368.0Z" fill="url(#ring)"/>
<path d="M112 1917 L88 2272 L250 2292 L250 2282 L114 2263Z" fill="#ececec"/>
<path d="M1167 1906 L1167 2258 L1040 2284 L1040 2294 L1191 2270Z" fill="#ececec"/>
</g>
<path d="M69.5 1665.0C69.1 1743.3 69.0 1821.7 68.4 1900.0C67.8 1973.0 67.8 2046.0 65.8 2119.0C64.8 2155.4 60.3 2191.6 59.3 2228.0C58.7 2250.0 58.9 2272.1 60.8 2294.0C62.7 2316.0 65.7 2338.1 70.6 2359.5C73.9 2373.8 80.5 2387.2 85.5 2401.0L85.5 2401.0C137.0 2409.0 188.2 2419.3 240.0 2425.0C306.4 2432.3 373.3 2436.7 440.0 2440.0C506.6 2443.3 573.3 2445.0 640.0 2445.0C706.7 2445.0 773.4 2443.5 840.0 2440.0C906.8 2436.5 973.6 2431.3 1040.0 2424.0C1088.4 2418.7 1136.3 2409.3 1184.4 2402.0L1184.4 2402.0C1189.5 2387.8 1196.2 2374.1 1199.7 2359.5C1204.9 2338.1 1208.8 2316.0 1210.7 2294.0C1212.6 2272.2 1211.8 2250.0 1211.1 2228.0C1210.0 2191.6 1206.2 2155.4 1205.2 2119.0C1203.2 2046.0 1202.6 1973.0 1202.0 1900.0C1201.3 1821.7 1201.5 1743.3 1201.3 1665.0" fill="none" stroke="#8a8a8a" stroke-width="2"/>
<ellipse cx="635.4" cy="1665.4" rx="566" ry="21.7" fill="#fff" stroke="#8a8a8a" stroke-width="1.5"/>
<path d="M172.2 1883.0 L250.5 1877.0 L332.0 1893.0 L412.3 1936.4 L493.8 1971.8 L574.8 2005.5 L655.8 2024.4 L739.9 2011.2 L820.6 1997.1 L899.3 1980.8 L979.3 1845.0 L1060.0 1843.0 L1140.8 1841.8 L1140.8 2314 L172.2 2314Z" fill="url(#area)"/>
<path d="M172 2283 L250 2292 L420 2300 L420 2294 L250 2282 L172 2272Z" fill="#7d8f00" fill-opacity="0.06"/>
<path d="M1141 2262 L1040 2284 L860 2302 L860 2307 L1040 2294 L1141 2276Z" fill="#7d8f00" fill-opacity="0.06"/>
<path d="M156 2257.0H1149M156 2200.0H1149M156 2143.0H1149M156 2086.0H1149M156 2029.0H1149M156 1972.0H1149M156 1915.0H1149M156 1858.0H1149M156 1801.0H1149M156 1744.0H1149M172.7 1726V2314M253.4 1726V2314M334.1 1726V2314M414.7 1726V2314M495.4 1726V2314M576.1 1726V2314M656.8 1726V2314M737.5 1726V2314M898.8 1726V2314M979.5 1726V2314M1060.2 1726V2314M1140.9 1726V2314" fill="none" stroke="#000" stroke-opacity="0.10" stroke-width="1.2"/>
<clipPath id="areaclip"><path d="M172.2 1883.0 L250.5 1877.0 L332.0 1893.0 L412.3 1936.4 L493.8 1971.8 L574.8 2005.5 L655.8 2024.4 L739.9 2011.2 L820.6 1997.1 L899.3 1980.8 L979.3 1845.0 L1060.0 1843.0 L1140.8 1841.8 L1140.8 2314 L172.2 2314Z"/></clipPath>
<g clip-path="url(#areaclip)" fill="none" stroke="#4a5a00" stroke-width="1"><path d="M156 2257.0H1149M156 2200.0H1149M156 2143.0H1149M156 2086.0H1149M156 2029.0H1149M156 1972.0H1149M156 1915.0H1149M156 1858.0H1149M156 1801.0H1149M156 1744.0H1149" stroke-opacity="0.10"/><path d="M172.7 1726V2314M253.4 1726V2314M334.1 1726V2314M414.7 1726V2314M495.4 1726V2314M576.1 1726V2314M656.8 1726V2314M737.5 1726V2314M898.8 1726V2314M979.5 1726V2314M1060.2 1726V2314M1140.9 1726V2314" stroke-opacity="0.16"/></g>
<path d="M817.8 1726V2314" fill="none" stroke="#555" stroke-opacity="0.55" stroke-width="1.4" stroke-dasharray="5 3"/>
<g fill="url(#bub)" stroke="#3c4608" stroke-opacity="0.34" stroke-width="1">
<ellipse cx="469" cy="1991" rx="22" ry="14.5"/>
<ellipse cx="464.7" cy="2012.3" rx="16" ry="12.4"/>
<ellipse cx="488.9" cy="2015.2" rx="8" ry="7.6"/>
<ellipse cx="496.8" cy="2002" rx="6.9" ry="6.9"/>
<ellipse cx="521" cy="2001" rx="6.9" ry="6.9"/>
<ellipse cx="284.6" cy="2072.5" rx="17.8" ry="13.2"/>
<ellipse cx="303.3" cy="2071.5" rx="3.5" ry="3.5"/>
<ellipse cx="299.4" cy="2090.8" rx="2.5" ry="2.5"/>
<ellipse cx="390.2" cy="2186.3" rx="16.8" ry="13.2"/>
<ellipse cx="215.5" cy="2219.8" rx="17" ry="12.2"/>
<ellipse cx="234.4" cy="2218.8" rx="3.5" ry="3.5"/>
<ellipse cx="230.2" cy="2238.7" rx="2.5" ry="2.5"/>
<ellipse cx="294.8" cy="2227.3" rx="6" ry="7"/>
<ellipse cx="358.8" cy="2224.8" rx="1.5" ry="1.5"/>
<ellipse cx="336" cy="2249" rx="1.5" ry="1.5"/>
<ellipse cx="342" cy="2265" rx="2" ry="2.5"/>
<ellipse cx="446.5" cy="2154.6" rx="3" ry="3"/>
<ellipse cx="459.2" cy="2154.6" rx="3.5" ry="4.5"/>
<ellipse cx="476.5" cy="2156.5" rx="8.5" ry="5.5"/>
<ellipse cx="503.8" cy="2161" rx="5" ry="4"/>
<ellipse cx="516.9" cy="2171" rx="7.5" ry="6"/>
<ellipse cx="524.8" cy="2166.6" rx="4" ry="5"/>
<ellipse cx="497.2" cy="2179.6" rx="3.5" ry="3.5"/>
<ellipse cx="550.8" cy="2175" rx="11" ry="9.5"/>
<ellipse cx="569.4" cy="2176.4" rx="8" ry="6"/>
<ellipse cx="505" cy="2187" rx="2" ry="2"/>
<ellipse cx="535" cy="2186.5" rx="2.5" ry="2.5"/>
<ellipse cx="557.5" cy="2197.6" rx="2.5" ry="2.5"/>
<ellipse cx="488.4" cy="2182" rx="1.5" ry="1.5"/>
<ellipse cx="527.7" cy="2189" rx="1.5" ry="1.5"/>
<ellipse cx="641.2" cy="2173.7" rx="17" ry="11.5"/>
<ellipse cx="663.7" cy="2164.4" rx="7" ry="6"/>
<ellipse cx="683.6" cy="2134.4" rx="7" ry="6"/>
<ellipse cx="689.8" cy="2128" rx="4" ry="5"/>
<ellipse cx="682.9" cy="2155.7" rx="7" ry="7.5"/>
<ellipse cx="700.9" cy="2147.2" rx="3.5" ry="4.5"/>
<ellipse cx="700.9" cy="2138.7" rx="2.5" ry="2.5"/>
<ellipse cx="708.9" cy="2169" rx="5" ry="5.5"/>
<ellipse cx="719.5" cy="2163" rx="2.5" ry="5"/>
<ellipse cx="732.8" cy="2171.6" rx="3" ry="3"/>
<ellipse cx="748.7" cy="2177.2" rx="6" ry="4"/>
<ellipse cx="469" cy="2258.7" rx="3" ry="3"/>
<ellipse cx="820.5" cy="2079.8" rx="13.5" ry="11.5"/>
<ellipse cx="846.6" cy="2069.7" rx="14.5" ry="10.5"/>
<ellipse cx="862.2" cy="2069" rx="3.5" ry="3.5"/>
<ellipse cx="898.9" cy="2073.9" rx="10.5" ry="7.5"/>
<ellipse cx="908.7" cy="2073" rx="2.5" ry="2.5"/>
<ellipse cx="926.8" cy="2080.6" rx="12.5" ry="13"/>
<ellipse cx="936" cy="2091.7" rx="4.5" ry="9.5"/>
<ellipse cx="996.6" cy="2087" rx="9.5" ry="9.5"/>
<ellipse cx="1025.9" cy="2043" rx="8.5" ry="5.5"/>
<ellipse cx="1104" cy="2058" rx="6.5" ry="4"/>
<ellipse cx="813" cy="2106.3" rx="6" ry="6"/>
<ellipse cx="839" cy="2099" rx="3.5" ry="3.5"/>
<ellipse cx="829.8" cy="2113.5" rx="3" ry="3"/>
<ellipse cx="851" cy="2127.6" rx="3" ry="3"/>
<ellipse cx="859" cy="2084.5" rx="2" ry="2"/>
<ellipse cx="1080.8" cy="2164" rx="5" ry="3"/>
<ellipse cx="1010" cy="2217" rx="10.5" ry="7"/>
<ellipse cx="977" cy="2223" rx="17" ry="8"/>
</g>
<g fill="none" stroke="#3c4608" stroke-opacity="0.2" stroke-width="1.8">
<ellipse cx="466.4" cy="1992.7" rx="13.6" ry="8.4"/>
<ellipse cx="462.8" cy="2013.8" rx="9.9" ry="7.2"/>
<ellipse cx="282.5" cy="2074.1" rx="11.0" ry="7.7"/>
<ellipse cx="388.2" cy="2187.9" rx="10.4" ry="7.7"/>
<ellipse cx="213.5" cy="2221.3" rx="10.5" ry="7.1"/>
<ellipse cx="549.5" cy="2176.1" rx="6.8" ry="5.5"/>
<ellipse cx="639.2" cy="2175.1" rx="10.5" ry="6.7"/>
<ellipse cx="818.9" cy="2081.2" rx="8.4" ry="6.7"/>
<ellipse cx="844.9" cy="2071.0" rx="9.0" ry="6.1"/>
<ellipse cx="897.6" cy="2074.8" rx="6.5" ry="4.3"/>
<ellipse cx="925.3" cy="2082.2" rx="7.8" ry="7.5"/>
<ellipse cx="995.5" cy="2088.1" rx="5.9" ry="5.5"/>
<ellipse cx="1008.7" cy="2217.8" rx="6.5" ry="4.1"/>
<ellipse cx="975.0" cy="2224.0" rx="10.5" ry="4.6"/>
</g>
<g fill="url(#bub)" fill-opacity="0.6" stroke="#3c4608" stroke-opacity="0.12" stroke-width="1">
<ellipse cx="308" cy="2185.2" rx="17" ry="17.5"/>
<ellipse cx="273.8" cy="2280.7" rx="6" ry="7"/>
<ellipse cx="292.3" cy="2271.6" rx="3" ry="3"/>
<ellipse cx="299.4" cy="2293" rx="4" ry="4"/>
<ellipse cx="310" cy="2286.8" rx="2" ry="2"/>
<ellipse cx="625.2" cy="2241.5" rx="4" ry="4"/>
<ellipse cx="634" cy="2237" rx="2.5" ry="2.5"/>
<ellipse cx="639.8" cy="2247.6" rx="3" ry="3"/>
</g>
<path d="M170.8 1880.0 L250.5 1874.0 L332.0 1890.0 L412.3 1933.4 L493.8 1968.8 L574.8 2002.5 L655.8 2021.4 L739.9 2008.2 L820.6 1994.1 L899.3 1977.8 L979.3 1842.0 L1060.0 1840.0 L1139.3 1838.8" fill="none" stroke="#9b9ca4" stroke-width="6" stroke-linejoin="round"/>
<path d="M163.5 2314.7H1158" stroke="#000" stroke-width="3" fill="none"/>
<path d="M176.5 2315V2325M256.8 2315V2325M337.1 2315V2325M417.4 2315V2325M497.7 2315V2325M578.0 2315V2325M658.3 2315V2325M738.6 2315V2325M818.9 2315V2325M899.2 2315V2325M979.5 2315V2325M1059.8 2315V2325M1140.1 2315V2325" stroke="#444" stroke-width="1.5" fill="none"/>
<path d="M817.9 2315V2325" stroke="#000" stroke-width="2" fill="none"/>
<g font-family="'Liberation Sans', sans-serif">
<text x="135.40" y="2320.00" font-size="18.3" fill="#222" textLength="11.40" lengthAdjust="spacingAndGlyphs">0</text>
<text x="122.45" y="2261.00" font-size="18.3" fill="#222" textLength="22.65" lengthAdjust="spacingAndGlyphs">10</text>
<text x="123.00" y="2204.00" font-size="18.3" fill="#222" textLength="22.07" lengthAdjust="spacingAndGlyphs">20</text>
<text x="123.25" y="2147.00" font-size="18.3" fill="#222" textLength="21.81" lengthAdjust="spacingAndGlyphs">30</text>
<text x="123.56" y="2090.00" font-size="18.3" fill="#222" textLength="21.50" lengthAdjust="spacingAndGlyphs">40</text>
<text x="123.21" y="2033.00" font-size="18.3" fill="#222" textLength="21.85" lengthAdjust="spacingAndGlyphs">50</text>
<text x="122.99" y="1976.00" font-size="18.3" fill="#222" textLength="22.08" lengthAdjust="spacingAndGlyphs">60</text>
<text x="122.98" y="1919.00" font-size="18.3" fill="#222" textLength="22.09" lengthAdjust="spacingAndGlyphs">70</text>
<text x="123.14" y="1862.00" font-size="18.3" fill="#222" textLength="21.93" lengthAdjust="spacingAndGlyphs">80</text>
<text x="123.07" y="1805.00" font-size="18.3" fill="#222" textLength="22.00" lengthAdjust="spacingAndGlyphs">90</text>
<text x="111.57" y="1748.00" font-size="18.3" fill="#222" textLength="33.51" lengthAdjust="spacingAndGlyphs">100</text>
<text x="140.18" y="2350.00" font-size="21.5" fill="#222" textLength="65.59" lengthAdjust="spacingAndGlyphs">29/04</text>
<text x="220.19" y="2350.00" font-size="21.5" fill="#222" textLength="65.41" lengthAdjust="spacingAndGlyphs">27/05</text>
<text x="304.17" y="2350.00" font-size="21.5" fill="#222" textLength="65.98" lengthAdjust="spacingAndGlyphs">24/06</text>
<text x="381.19" y="2350.00" font-size="21.5" fill="#222" textLength="65.12" lengthAdjust="spacingAndGlyphs">29/07</text>
<text x="462.18" y="2350.00" font-size="21.5" fill="#222" textLength="65.45" lengthAdjust="spacingAndGlyphs">26/08</text>
<text x="545.50" y="2350.00" font-size="21.5" fill="#222" textLength="65.74" lengthAdjust="spacingAndGlyphs">30/09</text>
<text x="627.20" y="2350.00" font-size="21.5" fill="#222" textLength="64.81" lengthAdjust="spacingAndGlyphs">28/10</text>
<text x="711.21" y="2350.00" font-size="21.5" fill="#222" textLength="64.04" lengthAdjust="spacingAndGlyphs">25/11</text>
<text x="787.51" y="2350.00" font-size="21.5" fill="#222" textLength="64.79" lengthAdjust="spacingAndGlyphs">30/12</text>
<text x="867.21" y="2350.00" font-size="21.5" fill="#222" textLength="64.04" lengthAdjust="spacingAndGlyphs">27/01</text>
<text x="947.18" y="2350.00" font-size="21.5" fill="#222" textLength="65.64" lengthAdjust="spacingAndGlyphs">24/02</text>
<text x="1028.00" y="2350.00" font-size="21.5" fill="#222" textLength="65.65" lengthAdjust="spacingAndGlyphs">31/03</text>
<text x="1106.96" y="2351.80" font-size="22" font-weight="bold" fill="#000" textLength="67.78" lengthAdjust="spacingAndGlyphs" stroke="#000" stroke-width="0.8">28/04</text>
<rect x="473.5" y="2227.5" width="127.5" height="62.5" fill="#97999c"/>
<text x="480.43" y="2277.50" font-size="48.5" font-weight="bold" fill="#fff" textLength="116.78" lengthAdjust="spacingAndGlyphs" stroke="#fff" stroke-width="1.5">2025</text>
<rect x="911.5" y="2224" width="127.5" height="63.5" fill="#97999c"/>
<text x="917.91" y="2275.00" font-size="48.5" font-weight="bold" fill="#fff" textLength="118.26" lengthAdjust="spacingAndGlyphs" stroke="#fff" stroke-width="1.5">2026</text>
<circle cx="170.8" cy="1880.0" r="10.6" fill="url(#ball)" stroke="#fff" stroke-width="1.7"/>
<circle cx="250.5" cy="1874.0" r="10.6" fill="url(#ball)" stroke="#fff" stroke-width="1.7"/>
<circle cx="332.0" cy="1890.0" r="10.6" fill="url(#ball)" stroke="#fff" stroke-width="1.7"/>
<circle cx="412.3" cy="1933.4" r="10.6" fill="url(#ball)" stroke="#fff" stroke-width="1.7"/>
<circle cx="493.8" cy="1968.8" r="10.6" fill="url(#ball)" stroke="#fff" stroke-width="1.7"/>
<circle cx="574.8" cy="2002.5" r="10.6" fill="url(#ball)" stroke="#fff" stroke-width="1.7"/>
<circle cx="655.8" cy="2021.4" r="10.6" fill="url(#ball)" stroke="#fff" stroke-width="1.7"/>
<circle cx="739.9" cy="2008.2" r="10.6" fill="url(#ball)" stroke="#fff" stroke-width="1.7"/>
<circle cx="820.6" cy="1994.1" r="10.6" fill="url(#ball)" stroke="#fff" stroke-width="1.7"/>
<circle cx="899.3" cy="1977.8" r="10.6" fill="url(#ball)" stroke="#fff" stroke-width="1.7"/>
<circle cx="979.3" cy="1842.0" r="10.6" fill="url(#ball)" stroke="#fff" stroke-width="1.7"/>
<circle cx="1060.0" cy="1840.0" r="10.6" fill="url(#ball)" stroke="#fff" stroke-width="1.7"/>
<circle cx="1139.3" cy="1838.8" r="10.6" fill="url(#ball)" stroke="#fff" stroke-width="1.7"/>
<path d="M1094.3 1723.8H1205.8V1786.3H1157.5L1140 1832.5L1146 1786.3H1094.3Z" fill="#000" stroke="#fff" stroke-width="1.5"/>
<text x="1101.65" y="1771.30" font-size="48.5" font-weight="bold" fill="#fff" textLength="98.38" lengthAdjust="spacingAndGlyphs" stroke="#fff" stroke-width="1.5">83,4</text>
<text x="148.72" y="1858.00" font-size="27" font-weight="bold" fill="#000" textLength="57.94" lengthAdjust="spacingAndGlyphs" stroke="#000" stroke-width="1">76,4</text>
<text x="225.52" y="1847.50" font-size="27" font-weight="bold" fill="#000" textLength="58.11" lengthAdjust="spacingAndGlyphs" stroke="#000" stroke-width="1">77,5</text>
<text x="295.52" y="1866.00" font-size="27" font-weight="bold" fill="#000" textLength="57.94" lengthAdjust="spacingAndGlyphs" stroke="#000" stroke-width="1">74,4</text>
<text x="376.79" y="1900.50" font-size="27" font-weight="bold" fill="#000" textLength="58.74" lengthAdjust="spacingAndGlyphs" stroke="#000" stroke-width="1">67,0</text>
<text x="464.00" y="1942.60" font-size="27" font-weight="bold" fill="#000" textLength="58.42" lengthAdjust="spacingAndGlyphs" stroke="#000" stroke-width="1">60,8</text>
<text x="543.98" y="1975.00" font-size="27" font-weight="bold" fill="#000" textLength="58.25" lengthAdjust="spacingAndGlyphs" stroke="#000" stroke-width="1">55,0</text>
<text x="626.37" y="1998.00" font-size="27" font-weight="bold" fill="#000" textLength="58.72" lengthAdjust="spacingAndGlyphs" stroke="#000" stroke-width="1">51,6</text>
<text x="709.68" y="1980.60" font-size="27" font-weight="bold" fill="#000" textLength="57.93" lengthAdjust="spacingAndGlyphs" stroke="#000" stroke-width="1">53,8</text>
<text x="785.89" y="1967.10" font-size="27" font-weight="bold" fill="#000" textLength="57.79" lengthAdjust="spacingAndGlyphs" stroke="#000" stroke-width="1">56,3</text>
<text x="858.68" y="1938.40" font-size="27" font-weight="bold" fill="#000" textLength="58.22" lengthAdjust="spacingAndGlyphs" stroke="#000" stroke-width="1">59,2</text>
<text x="942.05" y="1812.50" font-size="27" font-weight="bold" fill="#000" textLength="58.17" lengthAdjust="spacingAndGlyphs" stroke="#000" stroke-width="1">83,0</text>
<text x="1026.56" y="1810.00" font-size="27" font-weight="bold" fill="#000" textLength="57.82" lengthAdjust="spacingAndGlyphs" stroke="#000" stroke-width="1">83,3</text>
<text x="45.48" y="2525.00" font-size="58" fill="#b0c914" textLength="95.82" lengthAdjust="spacingAndGlyphs">eco</text>
<text x="137.50" y="2525.00" font-size="58" fill="#97999c" textLength="143.73" lengthAdjust="spacingAndGlyphs">avant</text>
<text x="281.93" y="2525.00" font-size="17.5" fill="#97999c" textLength="44.42" lengthAdjust="spacingAndGlyphs">.com</text>
<text x="799.04" y="2525.20" font-size="19" fill="#222" textLength="424.76" lengthAdjust="spacingAndGlyphs">Fuente: ecovant.com, Mº para la Transición Ecológica</text>
</g>
</svg>
</body>
</html>
